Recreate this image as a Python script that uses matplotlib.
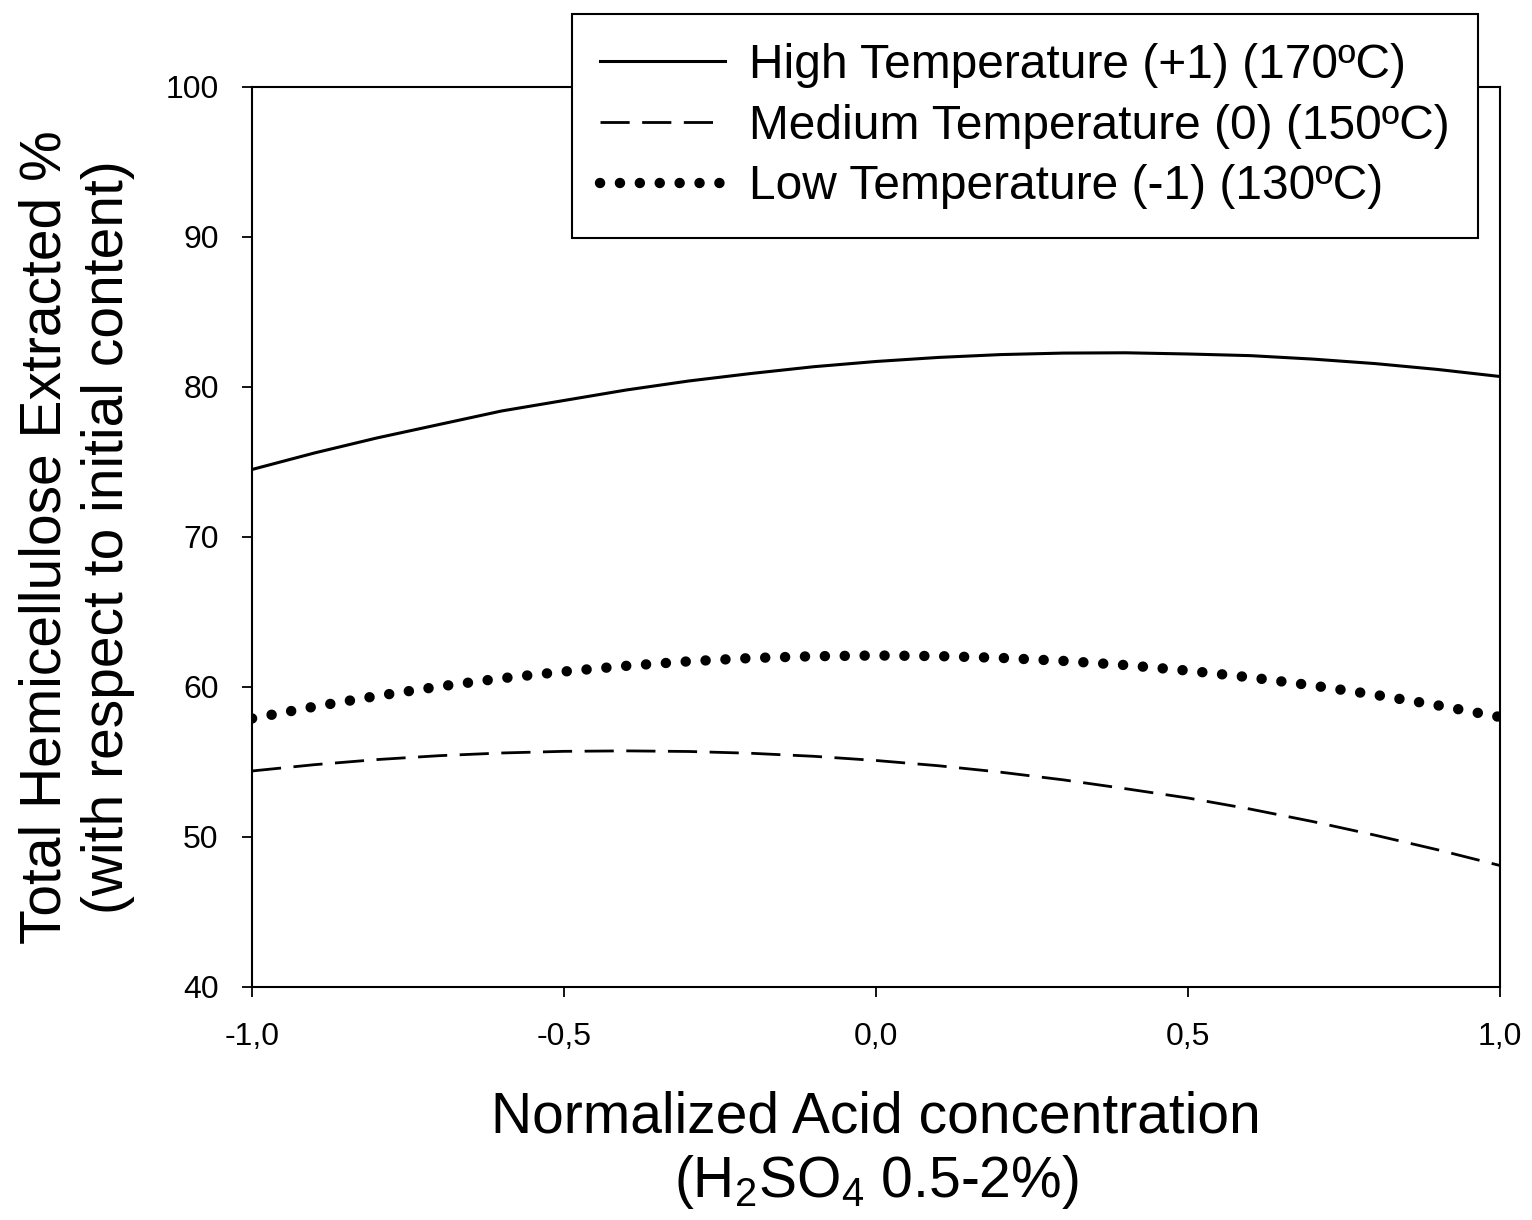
import numpy as np
import matplotlib
matplotlib.use('Agg')
import matplotlib.pyplot as plt

# normalized acid concentration
acid = [-1.0, -0.9, -0.8, -0.7, -0.6, -0.5, -0.4, -0.3, -0.2, -0.1, 0.0,
        0.1, 0.2, 0.3, 0.4, 0.5, 0.6, 0.7, 0.8, 0.9, 1.0]

# hemicellulose extracted (%)
high_temp = [74.5, 75.6, 76.6, 77.5, 78.4, 79.1, 79.8, 80.4, 80.9, 81.35, 81.7,
             81.97, 82.16, 82.26, 82.28, 82.2, 82.09, 81.86, 81.56, 81.17, 80.7]
medium_temp = [54.4, 54.82, 55.16, 55.42, 55.6, 55.71, 55.74, 55.7, 55.58, 55.38, 55.1,
               54.75, 54.32, 53.81, 53.22, 52.6, 51.86, 51.03, 50.12, 49.15, 48.1]
low_temp = [57.9, 58.69, 59.4, 60.03, 60.58, 61.03, 61.41, 61.71, 61.93, 62.05, 62.1,
            62.06, 61.94, 61.74, 61.46, 61.09, 60.64, 60.1, 59.48, 58.78, 58.0]

labels = ['High Temperature (+1) (170ºC)',
          'Medium Temperature (0) (150ºC)',
          'Low Temperature (-1) (130ºC)']

xticks = [-1.0, -0.5, 0.0, 0.5, 1.0]
xtick_labels = ['-1,0', '-0,5', '0,0', '0,5', '1,0']
yticks = [40, 50, 60, 70, 80, 90, 100]

plt.rcParams['font.family'] = ['Liberation Sans', 'DejaVu Sans']
plt.rcParams['mathtext.default'] = 'regular'


def main():
  fig = plt.figure(figsize=(15.32, 12.2), dpi=100)
  ax = fig.add_axes([0.1645, 0.191, 0.8145, 0.7377])

  ax.plot(acid, high_temp, color='black', lw=2.2, linestyle='-', label=labels[0])
  ax.plot(acid, medium_temp, color='black', lw=2.0, linestyle=(0, (10.5, 4.5)), label=labels[1])
  ax.plot(acid, low_temp, color='black', lw=7.5, linestyle=(0, (0.01, 1.9)),
          dash_capstyle='round', label=labels[2])

  ax.set_xlim(-1.0, 1.0)
  ax.set_ylim(40, 100)
  ax.set_xticks(xticks)
  ax.set_xticklabels(xtick_labels)
  ax.set_yticks(yticks)
  ax.tick_params(direction='out', length=7, width=1.3, labelsize=23, colors='black', pad=17)
  ax.tick_params(axis='x', pad=18)
  for sp in ax.spines.values():
    sp.set_linewidth(1.5)

  ax.set_xlabel('Normalized Acid concentration\n(H$_2$SO$_4$ 0.5-2%)', fontsize=41,
                labelpad=28, linespacing=1.2)
  ax.set_ylabel('Total Hemicellulose Extracted %\n(with respect to initial content)',
                fontsize=41, labelpad=22, linespacing=1.2)

  leg = fig.legend(loc='upper right', bbox_to_anchor=(0.965, 0.9885), fontsize=34.5,
                   handlelength=2.6, handletextpad=0.5, borderpad=0.6, borderaxespad=0,
                   labelspacing=0.33, fancybox=False, framealpha=1.0)
  leg.get_frame().set_edgecolor('black')
  leg.get_frame().set_linewidth(1.5)

  fig.savefig('out.png', dpi=100)


if __name__ == '__main__':
  main()
